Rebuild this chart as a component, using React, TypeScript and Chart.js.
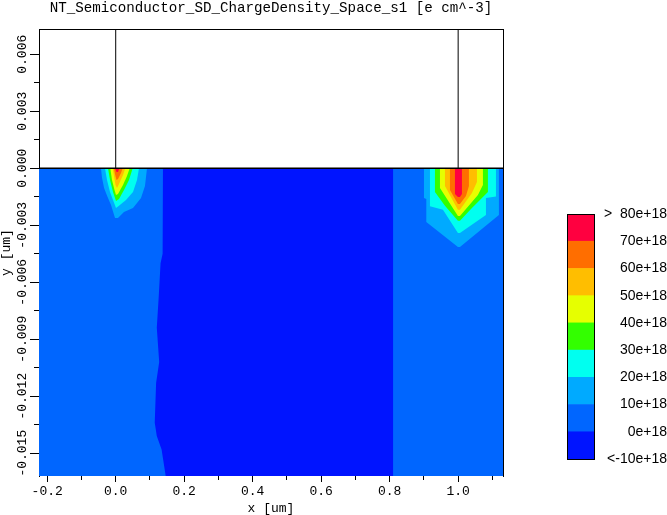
import React, { useEffect, useRef } from 'react';
import { Chart, registerables } from 'chart.js';

Chart.register(...registerables);

const TITLE = 'NT_Semiconductor_SD_ChargeDensity_Space_s1 [e cm^-3]';
const X_TITLE = 'x [um]';
const Y_TITLE = 'y [um]';

const X_MIN = -0.224;
const X_MAX = 1.131;
const X_STEP = 0.1;
const X_MAJOR = 0.2;
const Y_MIN = -0.0162;
const Y_MAX = 0.00733;
const Y_STEP = 0.0015;
const Y_MAJOR = 0.003;

// contour levels (e+18 cm^-3) and band colours (lowest band first)
const LEVELS = [-10, 0, 10, 20, 30, 40, 50, 60, 70, 80];
const LEVEL_COLORS = ['#0014FF', '#0066FF', '#00AAFF', '#00FFF0', '#33FF00', '#E6FF00', '#FFBE00', '#FF6E00', '#FF0040'];
const LEVEL_LABELS = ['<-10e+18', '0e+18', '10e+18', '20e+18', '30e+18', '40e+18', '50e+18', '60e+18', '70e+18', '>  80e+18'];

type Pt = [number, number];

// semiconductor region (band 0..10)
const SUBSTRATE: Pt[] = [[-0.3, 0], [1.2, 0], [1.2, -0.02], [-0.3, -0.02]];
// region below 0 (band -10..0)
const NEGATIVE_ZONE: Pt[] = [
  [0.138, 0], [0.136, -0.003], [0.138, -0.0045], [0.131, -0.005], [0.1255, -0.0068], [0.12, -0.0084],
  [0.127, -0.0102], [0.118, -0.0113], [0.114, -0.0134], [0.12, -0.0141], [0.134, -0.0148], [0.146, -0.0162],
  [0.148, -0.02], [0.81, -0.02], [0.81, 0],
];

// source contact peak (x = 0), regions above each level 10..70
const LEFT_10: Pt[] = [[-0.043, 0], [-0.04, -0.0005], [-0.034, -0.00104], [-0.025, -0.00146], [-0.0137, -0.00193], [-0.002, -0.00262], [0.0067, -0.00262], [0.0242, -0.0023], [0.0505, -0.00209], [0.0739, -0.00156], [0.0855, -0.00093], [0.0914, 0]];
const LEFT_20: Pt[] = [[-0.0312, 0], [-0.0254, -0.00062], [-0.0166, -0.00125], [-0.0079, -0.00167], [0.0009, -0.00209], [0.0096, -0.00198], [0.0301, -0.00167], [0.0505, -0.00125], [0.0622, -0.00062], [0.068, 0]];
const LEFT_30: Pt[] = [[-0.0225, 0], [-0.0166, -0.00062], [-0.0079, -0.00125], [0.0009, -0.00172], [0.0096, -0.00162], [0.0242, -0.00114], [0.0388, -0.00062], [0.0496, 0]];
const LEFT_40: Pt[] = [[-0.0158, 0], [-0.0108, -0.00062], [-0.0035, -0.00114], [0.0009, -0.00141], [0.0067, -0.00135], [0.0213, -0.00088], [0.033, -0.00041], [0.0409, 0]];
const LEFT_50: Pt[] = [[-0.0088, 0], [-0.005, -0.00041], [-0.0006, -0.00088], [0.0038, -0.00104], [0.0096, -0.00083], [0.0213, -0.00035], [0.028, 0]];
const LEFT_60: Pt[] = [[-0.005, 0], [-0.002, -0.0003], [0.0023, -0.00062], [0.0067, -0.00056], [0.0155, -0.00025], [0.0204, 0]];
const LEFT_70: Pt[] = [[-0.002, 0], [0.0023, -0.0002], [0.0067, -0.0002], [0.011, 0]];

// drain contact peak (x = 1), regions above each level 10..70
const RIGHT_10: Pt[] = [[0.9002, 0], [0.9002, -0.00157], [0.907, -0.00162], [0.907, -0.00283], [0.9994, -0.00414], [1.0053, -0.00414], [1.1191, -0.00246], [1.1191, 0]];
const RIGHT_20: Pt[] = [[0.9177, 0], [0.9177, -0.002], [0.9556, -0.00219], [0.9994, -0.00341], [1.0053, -0.00341], [1.0812, -0.00246], [1.0812, -0.00157], [1.1104, -0.00149], [1.1104, 0]];
const RIGHT_30: Pt[] = [[0.9323, 0], [0.9323, -0.00125], [0.9615, -0.00198], [0.9994, -0.00277], [1.0053, -0.00277], [1.0403, -0.00209], [1.087, -0.00125], [1.087, 0]];
const RIGHT_40: Pt[] = [[0.9469, 0], [0.9469, -0.00104], [0.9994, -0.00251], [1.0053, -0.00251], [1.0578, -0.00141], [1.0724, -0.00088], [1.0724, 0]];
const RIGHT_50: Pt[] = [[0.9615, 0], [0.9615, -0.00093], [0.9994, -0.00219], [1.0053, -0.00219], [1.0403, -0.0013], [1.0549, -0.00072], [1.0549, 0]];
const RIGHT_60: Pt[] = [[0.9761, 0], [0.9761, -0.00114], [0.9994, -0.00188], [1.0053, -0.00188], [1.0228, -0.00146], [1.0315, -0.00093], [1.0315, 0]];
const RIGHT_70: Pt[] = [[0.9907, 0], [0.9907, -0.00135], [0.9994, -0.00151], [1.0053, -0.00151], [1.0111, -0.00135], [1.0111, 0]];

const LEFT_PEAK = [LEFT_10, LEFT_20, LEFT_30, LEFT_40, LEFT_50, LEFT_60, LEFT_70];
const RIGHT_PEAK = [RIGHT_10, RIGHT_20, RIGHT_30, RIGHT_40, RIGHT_50, RIGHT_60, RIGHT_70];

// structure outlines
const SURFACE_LINE: Pt[] = [[-0.3, 0], [1.2, 0]];
const SOURCE_EDGE: Pt[] = [[0, 0], [0, 0.01]];
const DRAIN_EDGE: Pt[] = [[1, 0], [1, 0.01]];

const MONO = '"Liberation Mono", "DejaVu Sans Mono", monospace';
const SANS = '"Liberation Sans", Arial, sans-serif';

const isMajor = (v: number, m: number) => Math.abs(v / m - Math.round(v / m)) < 1e-6;

export default function App() {
  const mainRef = useRef<HTMLCanvasElement>(null);
  const barRef = useRef<HTMLCanvasElement>(null);

  useEffect(() => {
    const layers = [
      { poly: SUBSTRATE, color: LEVEL_COLORS[1] },
      { poly: NEGATIVE_ZONE, color: LEVEL_COLORS[0] },
      ...LEFT_PEAK.map((p, i) => ({ poly: p, color: LEVEL_COLORS[i + 2] })),
      ...RIGHT_PEAK.map((p, i) => ({ poly: p, color: LEVEL_COLORS[i + 2] })),
    ];
    const fillSets = layers.map((l, i) => ({
      data: l.poly.map(([x, y]) => ({ x, y })),
      fill: 'shape',
      backgroundColor: l.color,
      borderColor: 'transparent',
      borderWidth: 0,
      pointRadius: 0,
      pointHoverRadius: 0,
      order: 1000 - i,
      xAxisID: 'x',
      yAxisID: 'y',
    }));
    const outlines = [
      { poly: SURFACE_LINE, w: 1.5 },
      { poly: SOURCE_EDGE, w: 1 },
      { poly: DRAIN_EDGE, w: 1 },
    ];
    const lineSets = outlines.map((l) => ({
      data: l.poly.map(([x, y]) => ({ x, y })),
      fill: false,
      borderColor: '#000',
      borderWidth: l.w,
      pointRadius: 0,
      pointHoverRadius: 0,
      order: 0,
      xAxisID: 'x',
      yAxisID: 'y',
    }));

    const frame = (pos: string, axisMin: number, axisMax: number, horizontal: boolean) => ({
      type: 'linear',
      position: pos,
      min: axisMin,
      max: axisMax,
      ticks: { display: false },
      grid: { display: false },
      border: { display: true, color: '#000', width: 1 },
      afterFit: (s: any) => {
        if (horizontal) s.height = 0;
        else s.width = 0;
      },
    });

    const main = new Chart(mainRef.current as HTMLCanvasElement, {
      type: 'line',
      data: { datasets: [...fillSets, ...lineSets] as any },
      options: {
        animation: false,
        responsive: false,
        maintainAspectRatio: false,
        events: [],
        layout: { padding: { left: 0, right: 164, top: 0, bottom: 0 } },
        plugins: {
          legend: { display: false },
          tooltip: { enabled: false },
          title: {
            display: true,
            text: TITLE,
            fullSize: false,
            color: '#000',
            font: { family: MONO, size: 14.2, lineHeight: 1, weight: 'normal' },
            padding: { top: 1, bottom: 13.8 },
          },
        },
        scales: {
          x: {
            type: 'linear',
            position: 'bottom',
            min: X_MIN,
            max: X_MAX,
            afterFit: (s: any) => { s.height = 39; },
            border: { display: false },
            grid: {
              drawOnChartArea: false,
              drawTicks: true,
              tickLength: 6,
              tickColor: '#000',
              tickWidth: 1,
              tickBorderDash: (c: any) => (c.tick && !isMajor(c.tick.value, X_MAJOR) ? [4, 20] : []),
            },
            ticks: {
              stepSize: X_STEP,
              includeBounds: false,
              autoSkip: false,
              maxRotation: 0,
              minRotation: 0,
              color: '#000',
              padding: 2,
              font: { family: MONO, size: 13 },
              callback: (v: any) => (isMajor(Number(v), X_MAJOR) ? Number(v).toFixed(1) : ''),
            },
            title: {
              display: true,
              text: X_TITLE,
              color: '#000',
              font: { family: MONO, size: 13, lineHeight: 1 },
              padding: { top: 0, bottom: 0 },
            },
          },
          y: {
            type: 'linear',
            position: 'left',
            min: Y_MIN,
            max: Y_MAX,
            afterFit: (s: any) => { s.width = 39; },
            border: { display: true, color: '#000', width: 1 },
            grid: {
              drawOnChartArea: false,
              drawTicks: true,
              tickLength: 9,
              tickColor: '#000',
              tickWidth: 1,
              tickBorderDash: (c: any) => (c.tick && !isMajor(c.tick.value, Y_MAJOR) ? [5, 4] : []),
              tickBorderDashOffset: (c: any) => (c.tick && !isMajor(c.tick.value, Y_MAJOR) ? 5 : 0),
            },
            ticks: {
              stepSize: Y_STEP,
              includeBounds: false,
              autoSkip: false,
              minRotation: 90,
              maxRotation: 90,
              crossAlign: 'center',
              padding: -16,
              color: '#000',
              font: { family: MONO, size: 13 },
              callback: (v: any) => (isMajor(Number(v), Y_MAJOR) ? Number(v).toFixed(3) : ''),
            },
            title: {
              display: true,
              text: Y_TITLE,
              color: '#000',
              font: { family: MONO, size: 13, lineHeight: 1 },
              padding: { top: 0, bottom: 0 },
            },
          },
          xTop: frame('top', X_MIN, X_MAX, true),
          yRight: frame('right', Y_MIN, Y_MAX, false),
        } as any,
      } as any,
    });

    const barFrame = (pos: string, horizontal: boolean) => ({
      type: 'linear',
      position: pos,
      min: horizontal ? 0 : LEVELS[0],
      max: horizontal ? 1 : LEVELS[LEVELS.length - 1],
      ticks: { display: false },
      grid: { display: false },
      border: { display: true, color: '#000', width: 1, z: 1 },
      afterFit: (s: any) => {
        if (horizontal) s.height = 0;
        else s.width = 0;
      },
    });

    const bar = new Chart(barRef.current as HTMLCanvasElement, {
      type: 'bar',
      data: {
        labels: [''],
        datasets: LEVEL_COLORS.map((c, i) => ({
          data: [[LEVELS[i], LEVELS[i + 1]]],
          backgroundColor: c,
          borderWidth: 0,
          grouped: false,
          barPercentage: 1,
          categoryPercentage: 1,
        })) as any,
      },
      options: {
        animation: false,
        responsive: false,
        maintainAspectRatio: false,
        events: [],
        layout: { padding: { left: 7, right: 0, top: 14, bottom: 16 } },
        plugins: { legend: { display: false }, tooltip: { enabled: false } },
        scales: {
          x: {
            type: 'category',
            position: 'bottom',
            ticks: { display: false },
            grid: { display: false },
            border: { display: true, color: '#000', width: 1, z: 1 },
            afterFit: (s: any) => { s.height = 0; },
          },
          xTop: barFrame('top', true),
          yLeft: barFrame('left', false),
          y: {
            type: 'linear',
            position: 'right',
            min: LEVELS[0],
            max: LEVELS[LEVELS.length - 1],
            afterFit: (s: any) => { s.width = 73; },
            grid: { display: false },
            border: { display: true, color: '#000', width: 1, z: 1 },
            ticks: {
              stepSize: 10,
              autoSkip: false,
              crossAlign: 'far',
              padding: 0,
              color: '#000',
              font: { family: SANS, size: 14 },
              callback: (v: any) => {
                const idx = LEVELS.indexOf(Number(v));
                return idx >= 0 ? LEVEL_LABELS[idx] : '';
              },
            },
          },
        } as any,
      } as any,
    });

    return () => {
      main.destroy();
      bar.destroy();
    };
  }, []);

  return (
    <div style={{ position: 'absolute', left: 0, top: 0, width: 667, height: 515, background: '#fff' }}>
      <canvas ref={mainRef} width={667} height={515} style={{ position: 'absolute', left: 0, top: 0 }} />
      <canvas ref={barRef} width={107} height={275} style={{ position: 'absolute', left: 560, top: 200 }} />
    </div>
  );
}
